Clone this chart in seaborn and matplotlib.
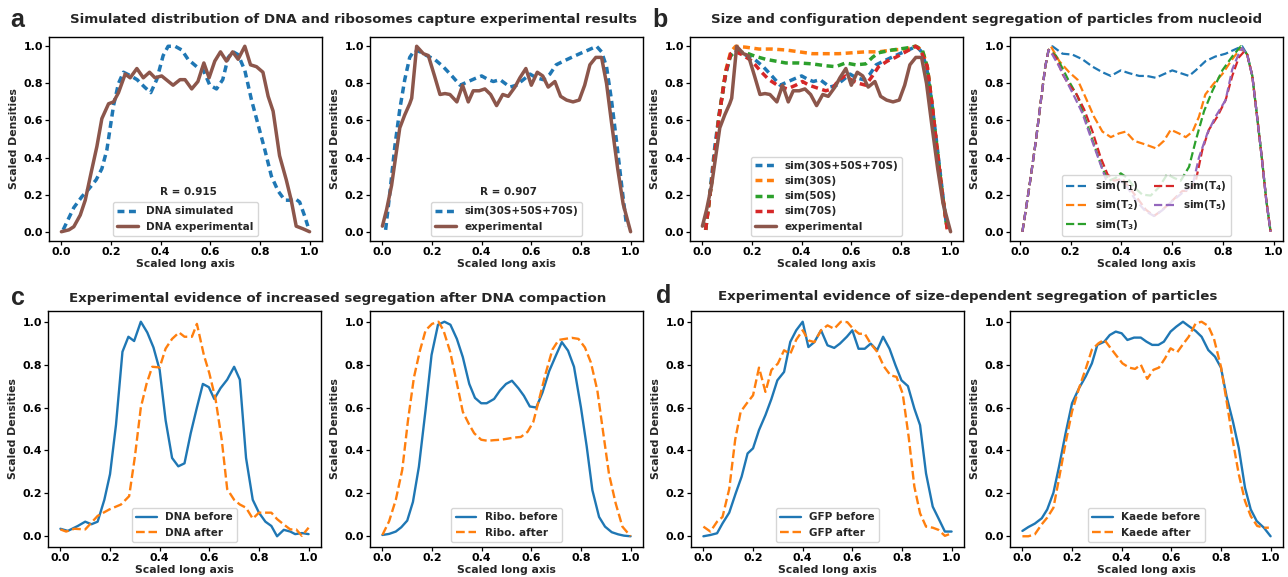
import numpy as np
import matplotlib
matplotlib.use('Agg')
import matplotlib.pyplot as plt
import seaborn as sns

# ---------------- Panel a (left): DNA ----------------
a1_sim_x = [0.007, 0.05, 0.083, 0.11, 0.14, 0.163, 0.183, 0.21, 0.23, 0.25, 0.28, 0.305, 0.335, 0.36,
            0.384, 0.41, 0.43, 0.458, 0.485, 0.51, 0.545, 0.572, 0.598, 0.625, 0.65, 0.672, 0.692,
            0.712, 0.739, 0.766, 0.79, 0.82, 0.846, 0.873, 0.90, 0.92, 0.94, 0.96, 0.98, 0.993]
a1_sim_y = [0.01, 0.13, 0.19, 0.23, 0.28, 0.34, 0.44, 0.68, 0.80, 0.86, 0.84, 0.82, 0.78, 0.75,
            0.82, 0.95, 1.0, 1.0, 0.98, 0.93, 0.89, 0.87, 0.79, 0.77, 0.82, 0.94, 0.97,
            0.955, 0.87, 0.71, 0.59, 0.44, 0.30, 0.22, 0.17, 0.17, 0.18, 0.16, 0.085, 0.03]
a1_exp_x = [0.0, 0.03, 0.05, 0.076, 0.096, 0.12, 0.143, 0.163, 0.19, 0.21, 0.23, 0.257, 0.277, 0.304,
            0.33, 0.355, 0.377, 0.404, 0.45, 0.478, 0.498, 0.525, 0.55, 0.574, 0.595, 0.618, 0.641,
            0.665, 0.69, 0.712, 0.739, 0.762, 0.786, 0.812, 0.833, 0.853, 0.879, 0.906, 0.926,
            0.946, 0.973, 1.0]
a1_exp_y = [0.0, 0.01, 0.027, 0.09, 0.17, 0.32, 0.46, 0.61, 0.69, 0.70, 0.75, 0.85, 0.83, 0.88,
            0.83, 0.86, 0.83, 0.84, 0.79, 0.82, 0.82, 0.77, 0.81, 0.91, 0.83, 0.92, 0.97,
            0.92, 0.97, 0.93, 1.0, 0.90, 0.89, 0.86, 0.73, 0.65, 0.41, 0.28, 0.17,
            0.03, 0.016, 0.0]

# ---------------- Panel a (right) / b (left): ribosomes ----------------
rib_exp_x = [0.0, 0.017, 0.037, 0.07, 0.09, 0.11, 0.118, 0.138, 0.165, 0.185, 0.21, 0.232, 0.252,
             0.272, 0.30, 0.323, 0.346, 0.366, 0.39, 0.413, 0.436, 0.46, 0.485, 0.507, 0.534,
             0.554, 0.578, 0.60, 0.624, 0.646, 0.668, 0.695, 0.718, 0.742, 0.768, 0.793, 0.815,
             0.836, 0.86, 0.883, 0.903, 0.923, 0.948, 0.97, 1.0]
rib_exp_y = [0.03, 0.12, 0.25, 0.56, 0.63, 0.69, 0.72, 1.0, 0.96, 0.95, 0.84, 0.74, 0.745,
             0.74, 0.70, 0.79, 0.70, 0.76, 0.76, 0.77, 0.74, 0.68, 0.74, 0.73, 0.78,
             0.83, 0.88, 0.79, 0.86, 0.84, 0.78, 0.81, 0.73, 0.71, 0.70, 0.71, 0.79,
             0.90, 0.94, 0.94, 0.80, 0.59, 0.34, 0.15, 0.0]
rib_sim_x = [0.013, 0.03, 0.05, 0.07, 0.09, 0.11, 0.13, 0.152, 0.178, 0.21, 0.245, 0.28, 0.313,
             0.346, 0.38, 0.40, 0.427, 0.447, 0.474, 0.494, 0.514, 0.54, 0.568, 0.595, 0.62,
             0.648, 0.675, 0.70, 0.73, 0.762, 0.795, 0.83, 0.863, 0.883, 0.903, 0.923, 0.944,
             0.964, 0.984]
rib_sim_y = [0.01, 0.21, 0.46, 0.66, 0.82, 0.94, 0.98, 0.97, 0.95, 0.93, 0.89, 0.84, 0.79,
             0.81, 0.83, 0.84, 0.82, 0.81, 0.82, 0.80, 0.78, 0.79, 0.82, 0.85, 0.83,
             0.82, 0.85, 0.90, 0.92, 0.94, 0.96, 0.98, 1.0, 0.97, 0.89, 0.71, 0.48,
             0.25, 0.03]
s30_x = [0.013, 0.04, 0.067, 0.094, 0.114, 0.134, 0.175, 0.228, 0.28, 0.336, 0.39, 0.443, 0.497,
         0.55, 0.604, 0.658, 0.71, 0.765, 0.819, 0.859, 0.886, 0.906, 0.926, 0.946, 0.966, 0.987]
s30_y = [0.01, 0.30, 0.62, 0.87, 0.97, 1.0, 0.995, 0.985, 0.985, 0.98, 0.97, 0.96, 0.96,
         0.96, 0.965, 0.97, 0.97, 0.98, 0.985, 1.0, 0.98, 0.89, 0.68, 0.44, 0.21, 0.01]
s50_x = [0.013, 0.04, 0.067, 0.094, 0.114, 0.134, 0.175, 0.215, 0.255, 0.295, 0.336, 0.39, 0.443,
         0.497, 0.537, 0.577, 0.617, 0.658, 0.685, 0.71, 0.765, 0.819, 0.859, 0.886, 0.906, 0.926,
         0.946, 0.966, 0.987]
s50_y = [0.01, 0.30, 0.62, 0.86, 0.95, 0.97, 0.965, 0.945, 0.93, 0.92, 0.91, 0.91, 0.905,
         0.895, 0.89, 0.91, 0.90, 0.905, 0.94, 0.965, 0.98, 0.99, 1.0, 0.98, 0.89, 0.68,
         0.44, 0.21, 0.01]
s70_x = [0.013, 0.04, 0.067, 0.094, 0.114, 0.134, 0.16, 0.20, 0.235, 0.268, 0.308, 0.342, 0.376,
         0.403, 0.43, 0.463, 0.497, 0.523, 0.55, 0.577, 0.604, 0.63, 0.658, 0.685, 0.71, 0.745,
         0.778, 0.819, 0.859, 0.879, 0.906, 0.926, 0.946, 0.966, 0.987]
s70_y = [0.01, 0.30, 0.62, 0.86, 0.96, 0.97, 0.955, 0.92, 0.865, 0.82, 0.785, 0.77, 0.79,
         0.81, 0.79, 0.775, 0.76, 0.77, 0.82, 0.84, 0.815, 0.80, 0.79, 0.84, 0.89, 0.92,
         0.94, 0.97, 1.0, 0.98, 0.89, 0.68, 0.44, 0.21, 0.01]

# ---------------- Panel b (right): sim(T1..T5) ----------------
t_rise_x = [0.01, 0.037, 0.063, 0.083, 0.10, 0.113]
t_rise_y = [0.0, 0.24, 0.49, 0.71, 0.89, 0.98]
t_fall_x = [0.915, 0.934, 0.954, 0.97, 0.987]
t_fall_y = [0.84, 0.62, 0.38, 0.17, 0.0]
t1_x = [0.128, 0.168, 0.207, 0.246, 0.286, 0.325, 0.358, 0.397, 0.43, 0.47, 0.50, 0.535, 0.567,
        0.60, 0.633, 0.666, 0.692, 0.731, 0.77, 0.81, 0.85, 0.875, 0.895]
t1_y = [1.0, 0.96, 0.955, 0.93, 0.89, 0.86, 0.84, 0.87, 0.855, 0.84, 0.84, 0.83, 0.85,
        0.87, 0.855, 0.84, 0.87, 0.92, 0.945, 0.96, 0.985, 1.0, 0.955]
t2_x = [0.122, 0.155, 0.194, 0.227, 0.26, 0.292, 0.325, 0.358, 0.39, 0.417, 0.45, 0.495, 0.535,
        0.567, 0.594, 0.626, 0.653, 0.68, 0.705, 0.73, 0.764, 0.797, 0.836, 0.87, 0.895]
t2_y = [1.0, 0.92, 0.86, 0.82, 0.72, 0.62, 0.54, 0.51, 0.53, 0.54, 0.49, 0.47, 0.45,
        0.49, 0.55, 0.53, 0.51, 0.54, 0.62, 0.74, 0.80, 0.85, 0.93, 0.99, 0.955]
t3_x = [0.142, 0.168, 0.194, 0.227, 0.26, 0.292, 0.325, 0.351, 0.377, 0.397, 0.423, 0.45, 0.482,
        0.515, 0.548, 0.58, 0.607, 0.633, 0.666, 0.692, 0.725, 0.758, 0.797, 0.836, 0.87, 0.895]
t3_y = [0.95, 0.88, 0.81, 0.73, 0.60, 0.47, 0.34, 0.275, 0.29, 0.315, 0.29, 0.24, 0.20,
        0.195, 0.24, 0.31, 0.29, 0.275, 0.35, 0.49, 0.65, 0.76, 0.87, 0.945, 1.0, 0.955]
t4_x = [0.142, 0.168, 0.194, 0.22, 0.253, 0.286, 0.318, 0.345, 0.371, 0.404, 0.43, 0.463, 0.495,
        0.528, 0.554, 0.587, 0.613, 0.64, 0.666, 0.692, 0.718, 0.744, 0.777, 0.81, 0.836, 0.862,
        0.882, 0.895]
t4_y = [0.94, 0.85, 0.79, 0.75, 0.66, 0.54, 0.40, 0.31, 0.275, 0.285, 0.24, 0.18, 0.12,
        0.085, 0.11, 0.15, 0.185, 0.22, 0.22, 0.27, 0.44, 0.55, 0.62, 0.71, 0.84, 0.94,
        0.97, 0.955]
t5_x = [0.128, 0.155, 0.181, 0.214, 0.246, 0.279, 0.312, 0.338, 0.364, 0.397, 0.423, 0.456, 0.495,
        0.528, 0.56, 0.60, 0.64, 0.68, 0.705, 0.738, 0.77, 0.81, 0.836, 0.862, 0.875, 0.895]
t5_y = [0.955, 0.89, 0.82, 0.73, 0.64, 0.51, 0.385, 0.285, 0.24, 0.275, 0.24, 0.17, 0.11,
        0.085, 0.115, 0.165, 0.21, 0.25, 0.40, 0.53, 0.62, 0.71, 0.875, 0.96, 0.99, 0.955]

# ---------------- Panel c (left): DNA before/after ----------------
c1_bef_x = [0.0, 0.03, 0.07, 0.10, 0.125, 0.15, 0.177, 0.20, 0.224, 0.25, 0.274, 0.297, 0.324, 0.35,
            0.375, 0.40, 0.424, 0.45, 0.475, 0.50, 0.525, 0.55, 0.574, 0.598, 0.62, 0.645, 0.672,
            0.70, 0.723, 0.748, 0.775, 0.80, 0.826, 0.85, 0.873, 0.90, 0.926, 0.946, 0.973, 1.0]
c1_bef_y = [0.035, 0.025, 0.048, 0.068, 0.056, 0.068, 0.17, 0.29, 0.52, 0.86, 0.93, 0.91, 1.0, 0.95,
            0.88, 0.775, 0.54, 0.365, 0.326, 0.34, 0.48, 0.60, 0.71, 0.695, 0.64, 0.69, 0.73,
            0.79, 0.73, 0.365, 0.17, 0.11, 0.068, 0.048, 0.0, 0.03, 0.022, 0.01, 0.015, 0.01]
c1_aft_x = [0.0, 0.023, 0.056, 0.10, 0.15, 0.197, 0.244, 0.277, 0.30, 0.324, 0.347, 0.37, 0.40, 0.424,
            0.45, 0.478, 0.50, 0.53, 0.55, 0.578, 0.60, 0.625, 0.65, 0.672, 0.70, 0.723, 0.748,
            0.775, 0.80, 0.826, 0.85, 0.873, 0.90, 0.926, 0.95, 0.973, 1.0]
c1_aft_y = [0.032, 0.022, 0.035, 0.032, 0.095, 0.125, 0.148, 0.187, 0.37, 0.60, 0.71, 0.79, 0.787, 0.875,
            0.92, 0.95, 0.93, 0.93, 0.99, 0.845, 0.76, 0.64, 0.45, 0.22, 0.17, 0.148, 0.133,
            0.082, 0.11, 0.11, 0.11, 0.08, 0.055, 0.032, 0.032, 0.002, 0.04]

# ---------------- Panel c (right): Ribo before/after ----------------
c2_bef_x = [0.0, 0.027, 0.054, 0.076, 0.10, 0.123, 0.147, 0.174, 0.198, 0.224, 0.25, 0.274, 0.30,
            0.324, 0.35, 0.373, 0.398, 0.42, 0.45, 0.474, 0.498, 0.522, 0.548, 0.57, 0.594, 0.62,
            0.645, 0.672, 0.70, 0.723, 0.748, 0.772, 0.80, 0.823, 0.846, 0.873, 0.897, 0.924,
            0.95, 0.973, 1.0]
c2_bef_y = [0.006, 0.011, 0.022, 0.042, 0.073, 0.16, 0.324, 0.59, 0.845, 0.986, 1.0, 0.986, 0.92,
            0.835, 0.71, 0.645, 0.62, 0.62, 0.64, 0.68, 0.71, 0.725, 0.69, 0.655, 0.605, 0.60,
            0.67, 0.77, 0.845, 0.905, 0.865, 0.79, 0.60, 0.42, 0.215, 0.09, 0.045, 0.019,
            0.009, 0.003, 0.0]
c2_aft_x = [0.0, 0.027, 0.054, 0.08, 0.103, 0.127, 0.15, 0.174, 0.20, 0.226, 0.246, 0.273, 0.297,
            0.324, 0.35, 0.37, 0.398, 0.424, 0.45, 0.478, 0.505, 0.53, 0.558, 0.585, 0.608, 0.634,
            0.658, 0.685, 0.71, 0.736, 0.763, 0.79, 0.816, 0.84, 0.866, 0.89, 0.913, 0.94, 0.967, 1.0]
c2_aft_y = [0.006, 0.07, 0.17, 0.31, 0.54, 0.74, 0.86, 0.96, 0.99, 1.0, 0.96, 0.86, 0.73,
            0.58, 0.52, 0.48, 0.45, 0.445, 0.448, 0.45, 0.455, 0.46, 0.463, 0.487, 0.533, 0.65,
            0.76, 0.87, 0.915, 0.92, 0.925, 0.92, 0.88, 0.81, 0.68, 0.48, 0.29, 0.153, 0.045, 0.0]

# ---------------- Panel d (left): GFP before/after ----------------
d1_bef_x = [0.0, 0.028, 0.055, 0.077, 0.104, 0.13, 0.154, 0.178, 0.20, 0.224, 0.25, 0.274, 0.298,
            0.325, 0.35, 0.374, 0.40, 0.423, 0.447, 0.474, 0.50, 0.527, 0.55, 0.578, 0.60, 0.625,
            0.65, 0.674, 0.70, 0.724, 0.75, 0.774, 0.798, 0.824, 0.85, 0.873, 0.897, 0.924, 0.947,
            0.973, 1.0]
d1_bef_y = [0.0, 0.006, 0.014, 0.06, 0.11, 0.20, 0.278, 0.386, 0.41, 0.495, 0.565, 0.64, 0.727,
            0.766, 0.906, 0.96, 1.0, 0.882, 0.905, 0.96, 0.89, 0.878, 0.898, 0.93, 0.96, 0.874,
            0.874, 0.898, 0.867, 0.93, 0.874, 0.797, 0.727, 0.70, 0.595, 0.518, 0.293, 0.138, 0.084,
            0.022, 0.022]
d1_aft_x = [0.0, 0.028, 0.055, 0.077, 0.104, 0.128, 0.15, 0.175, 0.20, 0.224, 0.25, 0.274, 0.30,
            0.325, 0.35, 0.374, 0.40, 0.423, 0.447, 0.474, 0.50, 0.527, 0.554, 0.58, 0.603, 0.627,
            0.65, 0.674, 0.70, 0.727, 0.754, 0.778, 0.803, 0.827, 0.85, 0.873, 0.897, 0.924, 0.947,
            0.973, 1.0]
d1_aft_y = [0.045, 0.022, 0.068, 0.09, 0.22, 0.45, 0.58, 0.62, 0.657, 0.786, 0.673, 0.775, 0.805,
            0.867, 0.85, 0.916, 0.96, 0.913, 0.905, 0.96, 0.983, 0.967, 1.0, 0.998, 0.967, 0.944,
            0.944, 0.898, 0.86, 0.792, 0.75, 0.743, 0.665, 0.464, 0.231, 0.107, 0.045, 0.04, 0.03,
            0.002, 0.014]

# ---------------- Panel d (right): Kaede before/after ----------------
d2_bef_x = [0.0, 0.024, 0.05, 0.078, 0.10, 0.125, 0.148, 0.174, 0.20, 0.228, 0.255, 0.28, 0.302,
            0.33, 0.352, 0.376, 0.40, 0.423, 0.45, 0.477, 0.50, 0.523, 0.548, 0.57, 0.597, 0.62,
            0.647, 0.67, 0.698, 0.722, 0.749, 0.776, 0.80, 0.823, 0.848, 0.872, 0.897, 0.92,
            0.944, 0.973, 1.0]
d2_bef_y = [0.025, 0.043, 0.059, 0.084, 0.125, 0.203, 0.327, 0.48, 0.62, 0.69, 0.745, 0.806, 0.892,
            0.907, 0.938, 0.954, 0.946, 0.915, 0.926, 0.926, 0.907, 0.892, 0.892, 0.907, 0.954, 0.977,
            1.0, 0.98, 0.957, 0.93, 0.868, 0.837, 0.786, 0.65, 0.536, 0.41, 0.226, 0.125,
            0.071, 0.04, 0.0]
d2_aft_x = [0.0, 0.024, 0.05, 0.078, 0.10, 0.125, 0.148, 0.174, 0.20, 0.228, 0.255, 0.28, 0.307,
            0.33, 0.356, 0.38, 0.403, 0.43, 0.454, 0.477, 0.503, 0.528, 0.55, 0.575, 0.597, 0.624,
            0.647, 0.67, 0.698, 0.722, 0.749, 0.772, 0.80, 0.823, 0.848, 0.872, 0.897, 0.92,
            0.946, 0.973, 0.993]
d2_aft_y = [0.0, 0.0, 0.009, 0.056, 0.087, 0.133, 0.272, 0.435, 0.582, 0.69, 0.78, 0.87, 0.90,
            0.916, 0.876, 0.84, 0.806, 0.786, 0.78, 0.80, 0.734, 0.776, 0.786, 0.83, 0.876, 0.858,
            0.895, 0.93, 0.992, 1.0, 0.98, 0.92, 0.79, 0.628, 0.443, 0.288, 0.164, 0.094,
            0.048, 0.04, 0.04]

# ---------------- Text ----------------
title_a = "Simulated distribution of DNA and ribosomes capture experimental results"
title_b = "Size and configuration dependent segregation of particles from nucleoid"
title_c = "Experimental evidence of increased segregation after DNA compaction"
title_d = "Experimental evidence of size-dependent segregation of particles"
xlabel = "Scaled long axis"
ylabel = "Scaled Densities"
ticks = [0.0, 0.2, 0.4, 0.6, 0.8, 1.0]
tick_labels = ["0.0", "0.2", "0.4", "0.6", "0.8", "1.0"]

# ---------------- Style ----------------
sns.set_theme(style='ticks')
plt.rcParams.update({
    'font.family': ['DejaVu Sans'],
    'font.weight': 'bold',
    'axes.labelweight': 'bold',
    'axes.edgecolor': 'black',
    'axes.linewidth': 1.0,
    'xtick.color': 'black',
    'ytick.color': 'black',
    'xtick.major.size': 3.0,
    'ytick.major.size': 3.0,
    'xtick.major.width': 0.9,
    'ytick.major.width': 0.9,
    'mathtext.default': 'bf',
    'legend.frameon': True,
})
pal = sns.color_palette('tab10')
BLUE, ORANGE, GREEN, RED, PURPLE, BROWN = pal[0], pal[1], pal[2], pal[3], pal[4], pal[5]

FS = 7.5
TICKFS = 7.9
W, H = 1288, 577
fig = plt.figure(figsize=(W / 100, H / 100), dpi=100)


def make_ax(left, top, width, height):
    return fig.add_axes([left / W, 1 - (top + height) / H, width / W, height / H])


top_lefts = [49, 370, 690, 1010]
bot_lefts = [48, 370, 691, 1010]
axs_top = [make_ax(l, 37, 273, 204) for l in top_lefts]
axs_bot = [make_ax(l, 311, 273, 236) for l in bot_lefts]

SIMDASH = (0, (2.0, 1.3))


def draw(ax, x, y, color, ls='-', lw=2.5, label=None):
    sns.lineplot(x=x, y=y, ax=ax, color=color, linestyle=ls, linewidth=lw,
                 label=label, sort=False, estimator=None)


def finish(ax, ncol=1):
    ax.set_xticks(ticks)
    ax.set_xticklabels(tick_labels, fontsize=TICKFS, fontweight='bold')
    ax.set_yticks(ticks)
    ax.set_yticklabels(tick_labels, fontsize=TICKFS, fontweight='bold')
    ax.set_xlabel(xlabel, fontsize=FS + 0.3, fontweight='bold', labelpad=1)
    ax.set_ylabel(ylabel, fontsize=FS + 0.3, fontweight='bold', labelpad=3.5)
    ax.tick_params(axis='x', pad=1.5)
    ax.tick_params(axis='y', pad=1.0)
    leg = ax.legend(loc='lower center', ncol=ncol, prop={'size': FS, 'weight': 'bold'},
                    borderaxespad=0.5, columnspacing=1.5)
    leg.get_frame().set_edgecolor('#cccccc')


# Panel a left
ax = axs_top[0]
draw(ax, a1_sim_x, a1_sim_y, BLUE, SIMDASH, 2.5, 'DNA simulated')
draw(ax, a1_exp_x, a1_exp_y, BROWN, '-', 2.5, 'DNA experimental')
ax.text(0.51, 0.215, 'R = 0.915', ha='center', va='center', fontsize=FS, fontweight='bold')
finish(ax)

# Panel a right
ax = axs_top[1]
draw(ax, rib_sim_x, rib_sim_y, BLUE, SIMDASH, 2.5, 'sim(30S+50S+70S)')
draw(ax, rib_exp_x, rib_exp_y, BROWN, '-', 2.5, 'experimental')
ax.text(0.51, 0.215, 'R = 0.907', ha='center', va='center', fontsize=FS, fontweight='bold')
finish(ax)

# Panel b left
ax = axs_top[2]
draw(ax, rib_sim_x, rib_sim_y, BLUE, SIMDASH, 2.5, 'sim(30S+50S+70S)')
draw(ax, s30_x, s30_y, ORANGE, SIMDASH, 2.5, 'sim(30S)')
draw(ax, s50_x, s50_y, GREEN, SIMDASH, 2.5, 'sim(50S)')
draw(ax, s70_x, s70_y, RED, SIMDASH, 2.5, 'sim(70S)')
draw(ax, rib_exp_x, rib_exp_y, BROWN, '-', 2.5, 'experimental')
finish(ax)

# Panel b right
ax = axs_top[3]
t_sets = [(t1_x, t1_y, BLUE), (t2_x, t2_y, ORANGE), (t3_x, t3_y, GREEN),
          (t4_x, t4_y, RED), (t5_x, t5_y, PURPLE)]
for i, (tx, ty, col) in enumerate(t_sets):
    xs = t_rise_x + tx + t_fall_x
    ys = t_rise_y + ty + t_fall_y
    draw(ax, xs, ys, col, '--', 1.6, 'sim(T$_{%d}$)' % (i + 1))
finish(ax, ncol=2)

# Panel c left
ax = axs_bot[0]
draw(ax, c1_bef_x, c1_bef_y, BLUE, '-', 1.7, 'DNA before')
draw(ax, c1_aft_x, c1_aft_y, ORANGE, '--', 1.7, 'DNA after')
finish(ax)

# Panel c right
ax = axs_bot[1]
draw(ax, c2_bef_x, c2_bef_y, BLUE, '-', 1.7, 'Ribo. before')
draw(ax, c2_aft_x, c2_aft_y, ORANGE, '--', 1.7, 'Ribo. after')
finish(ax)

# Panel d left
ax = axs_bot[2]
draw(ax, d1_bef_x, d1_bef_y, BLUE, '-', 1.7, 'GFP before')
draw(ax, d1_aft_x, d1_aft_y, ORANGE, '--', 1.7, 'GFP after')
finish(ax)

# Panel d right
ax = axs_bot[3]
draw(ax, d2_bef_x, d2_bef_y, BLUE, '-', 1.7, 'Kaede before')
draw(ax, d2_aft_x, d2_aft_y, ORANGE, '--', 1.7, 'Kaede after')
finish(ax)

# Titles and panel letters
TFS = 9.6
fig.text(354 / W, 1 - 23 / H, title_a, ha='center', va='baseline', fontsize=TFS, fontweight='bold')
fig.text(986.5 / W, 1 - 23 / H, title_b, ha='center', va='baseline', fontsize=TFS, fontweight='bold')
fig.text(337.5 / W, 1 - 302 / H, title_c, ha='center', va='baseline', fontsize=TFS, fontweight='bold')
fig.text(967.5 / W, 1 - 300 / H, title_d, ha='center', va='baseline', fontsize=TFS, fontweight='bold')

LFS = 18
for letter, x, y in [('a', 10, 27), ('b', 652, 27), ('c', 11, 305), ('d', 656, 303)]:
    fig.text(x / W, 1 - y / H, letter, ha='left', va='baseline', fontsize=LFS,
             fontweight='bold', family=['Liberation Sans', 'DejaVu Sans'])

fig.savefig('out.png', dpi=100)
